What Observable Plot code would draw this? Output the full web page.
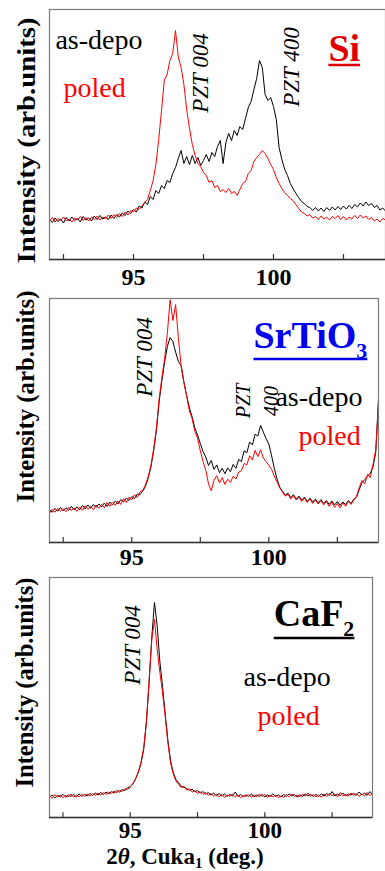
<!DOCTYPE html>
<html>
<head>
<meta charset="utf-8">
<script src="https://cdn.jsdelivr.net/npm/d3@7"></script>
<script src="https://cdn.jsdelivr.net/npm/@observablehq/plot@0.6"></script>
<style>
  html, body { margin: 0; padding: 0; background: #fff; }
  #wrap { position: relative; width: 385px; height: 871px; overflow: hidden; background: #fff; }
  #wrap svg { position: absolute; left: 0; }
  #wrap svg text, #wrap svg tspan { font-family: 'Liberation Serif', 'Times New Roman', serif !important; }
</style>
</head>
<body>
<div id="wrap"></div>
<script>
// ---------------- DATA ----------------
// 2θ sampling grid (deg.), 92.0 … 104.0 in 0.1° steps
const twoTheta = d3.range(0, 121).map(i => +(92 + i * 0.1).toFixed(1));

// Intensities (arb. units, 0–100 of panel height)
const siAsDepo = [
  16.0,14.8,16.6,15.2,16.2,14.6,16.8,15.4,17.0,15.6,
  16.4,15.0,17.2,15.8,16.6,15.4,17.4,16.0,17.6,16.2,
  17.0,16.0,17.8,16.4,18.0,17.0,18.6,17.6,19.4,18.4,
  20.0,19.0,21.4,20.6,23.0,22.0,25.2,24.0,27.6,26.4,
  29.6,28.4,31.6,30.8,34.4,36.8,40.4,43.6,38.4,41.2,
  38.0,41.6,38.4,40.8,37.6,39.6,42.0,39.2,42.8,41.2,
  45.2,47.6,38.4,46.8,50.4,47.6,51.6,49.6,53.2,52.0,
  56.4,60.8,63.2,68.0,72.4,79.6,76.8,66.0,63.6,64.8,
  61.2,56.0,44.8,40.0,36.0,33.6,30.4,28.4,26.4,24.8,
  23.2,22.4,21.2,20.8,19.6,20.8,19.4,20.6,19.2,20.8,
  19.6,21.0,19.8,21.2,20.0,21.4,20.2,21.6,20.4,22.0,
  21.0,22.6,21.4,23.0,21.6,22.4,20.8,21.6,19.8,20.6,
  19.4];
const siPoled = [
  15.2,16.8,15.0,16.4,15.6,17.0,15.4,16.2,15.0,16.6,
  15.8,17.2,15.6,16.8,15.4,17.0,16.0,17.4,15.8,17.0,
  16.2,17.8,16.4,18.0,16.8,18.4,17.2,19.0,17.8,19.6,
  19.0,20.6,20.0,21.4,22.8,24.0,27.6,31.6,38.0,48.0,
  59.6,71.6,74.0,79.6,82.4,91.6,81.0,76.8,70.0,60.0,
  52.4,46.0,41.6,38.4,37.2,34.8,33.6,30.8,31.6,28.8,
  29.6,27.2,28.0,26.8,28.4,26.4,27.2,25.6,28.0,30.4,
  31.2,34.4,35.6,39.2,40.8,42.0,43.6,42.4,40.4,38.0,
  36.0,32.8,30.4,28.4,26.8,25.6,24.4,23.6,22.0,20.4,
  19.0,18.4,17.4,18.0,16.6,17.2,16.0,17.4,16.2,17.0,
  15.8,17.2,16.4,17.6,16.0,17.2,15.8,17.0,16.2,17.6,
  16.4,17.8,16.6,17.4,16.0,16.8,15.4,16.2,15.0,16.4,
  15.8];
const stoAsDepo = [
  13.4,12.4,14.0,12.8,14.4,13.0,14.2,13.2,14.8,13.4,
  14.6,13.4,15.2,13.8,15.4,14.0,15.6,14.4,15.8,14.6,
  16.2,14.8,16.6,15.4,17.0,15.8,17.6,16.6,18.2,17.2,
  18.8,18.0,19.8,19.6,21.0,23.0,26.4,31.0,37.6,46.0,
  57.8,66.4,74.0,80.4,84.0,82.4,78.0,74.2,72.5,66.0,
  60.2,55.4,51.6,47.0,44.0,40.6,37.3,35.0,31.6,33.6,
  30.0,31.8,28.6,30.4,28.2,30.6,29.0,32.0,30.4,34.0,
  33.2,37.6,36.8,41.2,40.0,44.4,43.6,48.0,45.2,42.6,
  40.4,35.6,30.4,26.0,22.6,21.0,19.4,20.2,18.4,19.6,
  17.8,19.0,17.4,18.6,16.8,18.2,16.6,17.8,16.2,17.6,
  16.0,17.2,15.6,17.0,15.4,16.8,15.2,16.6,15.6,17.2,
  16.0,17.8,18.6,21.8,24.6,25.8,27.0,28.4,31.0,37.0,
  59.0];
const stoPoled = [
  12.0,13.6,12.4,14.0,12.8,13.8,12.6,14.4,13.0,14.2,
  12.8,14.6,13.2,15.0,13.6,14.8,13.4,15.4,14.0,15.6,
  14.2,16.4,14.8,16.6,15.2,17.0,15.6,18.0,16.4,18.6,
  17.4,19.6,18.4,20.8,21.4,23.6,27.0,31.6,38.4,47.0,
  59.0,67.6,75.4,86.0,99.5,91.0,97.5,84.0,72.5,65.6,
  60.2,54.0,50.8,45.6,42.8,37.6,33.2,29.6,24.0,21.2,
  25.6,27.4,24.4,26.6,23.8,26.0,24.6,27.2,26.0,28.8,
  29.4,32.4,31.8,35.6,33.8,37.8,35.2,38.0,34.6,33.2,
  31.6,30.0,27.2,24.8,22.4,20.6,19.0,19.8,17.8,19.2,
  17.4,18.6,16.8,18.2,16.4,17.8,16.0,17.4,15.8,17.2,
  15.4,16.8,14.8,16.6,14.4,16.0,14.2,16.2,14.8,16.8,
  15.6,17.4,19.0,22.6,25.4,24.0,28.0,26.6,32.0,38.0,
  57.0];
const cafAsDepo = [
  8.4,9.4,8.2,9.2,8.6,9.6,8.4,9.4,8.8,9.6,
  8.6,9.8,8.8,9.6,9.0,10.0,9.2,10.2,9.4,10.4,
  9.6,10.6,9.8,10.8,10.2,11.2,10.6,11.6,11.2,12.4,
  12.8,14.0,16.2,18.8,22.6,28.4,39.6,56.0,75.0,89.6,
  80.0,65.0,54.6,43.0,32.0,23.4,18.6,15.8,14.4,13.0,
  12.6,12.0,11.4,11.8,10.8,11.2,10.2,10.8,9.8,10.4,
  9.4,10.2,9.2,10.0,9.0,9.8,8.8,9.6,9.0,10.6,
  8.8,9.6,8.6,9.4,8.8,9.8,8.6,9.4,8.8,9.6,
  8.6,9.4,8.8,9.8,8.8,9.4,8.6,9.6,8.8,9.8,
  9.0,9.6,8.6,9.4,8.8,9.8,9.0,9.6,8.8,9.6,
  8.8,9.8,9.0,10.0,9.2,10.8,9.0,9.8,9.2,10.2,
  9.0,9.8,9.4,10.0,9.2,10.6,9.4,10.2,9.2,10.8,
  9.6];
const cafPoled = [
  9.0,8.0,9.6,8.4,9.4,8.2,9.2,8.6,9.8,8.4,
  9.4,8.6,9.6,8.8,9.8,9.0,10.0,9.2,10.2,9.4,
  10.4,9.6,10.6,10.0,11.0,10.2,11.4,10.8,12.0,11.6,
  12.6,14.2,16.0,19.0,23.0,29.0,40.0,57.0,74.0,82.5,
  70.0,60.5,52.0,42.0,31.0,22.6,18.0,15.2,13.8,12.4,
  13.0,11.4,12.0,10.6,11.2,10.0,10.8,9.6,10.4,9.2,
  10.0,8.8,9.8,8.6,9.6,8.4,9.4,8.8,9.8,8.6,
  9.4,8.2,9.2,8.8,9.6,8.4,9.4,8.6,9.8,8.8,
  9.6,8.4,9.2,8.6,9.4,8.2,9.0,8.4,9.6,8.6,
  9.8,8.8,9.4,8.6,9.8,9.0,10.2,8.8,9.6,8.6,
  9.4,8.4,9.8,8.8,10.0,9.0,9.8,8.6,10.4,9.0,
  9.6,8.8,10.2,9.2,10.0,8.8,9.8,9.0,10.4,9.2,
  10.0];

const seriesNames = ["as-depo", "poled"];
const xTicks = [92.5, 95, 97.5, 100, 102.5];
const xTickLabels = [95, 100];
const yLabel = "Intensity (arb.units)";
const xLabelParts = [
  {t: "2"}, {t: "θ", italic: true}, {t: ", Cuka"}, {t: "1", sub: true}, {t: " (deg.)"}
];

// substrate name (main + subscript) per panel
const substrateNames = ["Si", "SrTiO", "CaF"];
const substrateSubs = ["", "3", "2"];

// annotation anchors in data space (2θ, intensity)
const substrateAnchors = [
  {x: 101.96, y: 79.6}, {x: 99.44, y: 79.9}, {x: 100.33, y: 80.0}
];
const peakLabels = [
  {panel: 0, text: "PZT 004", x: 97.38, y: 74.6},
  {panel: 0, text: "PZT 400", x: 100.66, y: 77.0},
  {panel: 1, text: "PZT 004", x: 95.46, y: 76.0},
  {panel: 1, text: "PZT\n400", x: 99.51, y: 58.0},
  {panel: 2, text: "PZT 004", x: 95.07, y: 71.9}
];
const legendLabels = [
  {panel: 0, series: "as-depo", x: 92.21, y: 84.4},
  {panel: 0, series: "poled",   x: 92.50, y: 65.2},
  {panel: 1, series: "as-depo", x: 100.24, y: 56.1},
  {panel: 1, series: "poled",   x: 101.08, y: 39.8},
  {panel: 2, series: "as-depo", x: 99.21, y: 55.0},
  {panel: 2, series: "poled",   x: 99.73, y: 38.75}
];

// ---------------- LAYOUT / STYLE ----------------
const serif = "Liberation Serif, Times New Roman, serif";
const seriesColors = {"as-depo": "#000000", "poled": "#ff0000"};
const substrateColors = ["#e00000", "#0000ee", "#000000"];
const layout = [
  {top: 0,   height: 290, mt: 9, mb: 31, mr: 0,  tickDy: 18, tickFs: 24, ylDx: -23, ylDy: 6,   ylLen: 246, ulOff: 5,  subDy: 10},
  {top: 290, height: 280, mt: 8, mb: 28, mr: 7,  tickDy: 15, tickFs: 24, ylDx: -24, ylDy: -24, ylLen: 212, ulOff: 12, subDy: 10},
  {top: 570, height: 301, mt: 7, mb: 54, mr: 13, tickDy: 13, tickFs: 23, ylDx: -25, ylDy: -15, ylLen: 210, ulOff: 13, subDy: 10}
];
const panelSeries = [[siAsDepo, siPoled], [stoAsDepo, stoPoled], [cafAsDepo, cafPoled]];

const wrap = document.getElementById("wrap");
const NS = "http://www.w3.org/2000/svg";

layout.forEach((L, i) => {
  const [a, p] = panelSeries[i];
  const rows = twoTheta.map((t, j) => ({t, asDepo: a[j], poled: p[j]}));
  const peaks1 = peakLabels.filter(d => d.panel === i && !d.text.includes("\n"));
  const peaks2 = peakLabels.filter(d => d.panel === i && d.text.includes("\n"));
  const leg = legendLabels.filter(d => d.panel === i);
  const sub = [{name: substrateNames[i], ...substrateAnchors[i]}];
  const xLabelText = xLabelParts.map(d => d.t).join("");

  const marks = [
    Plot.lineY(rows, {x: "t", y: "asDepo", stroke: seriesColors["as-depo"], strokeWidth: 1, clip: true}),
    Plot.lineY(rows, {x: "t", y: "poled", stroke: seriesColors["poled"], strokeWidth: 1, clip: true}),
    Plot.frame({stroke: "#7a7a7a", strokeWidth: 1.2}),
    Plot.ruleY([0], {stroke: "#333", strokeWidth: 1.5}),
    Plot.ruleX(xTicks, {x: d => d, y1: 0, y2: 2, stroke: "#333", strokeWidth: 1.2}),
    Plot.text(xTickLabels, {x: d => d, text: d => String(d), frameAnchor: "bottom", lineAnchor: "middle",
      dy: L.tickDy, fontSize: L.tickFs, fontWeight: "bold", fontFamily: serif, fill: "#000"}),
    Plot.text([yLabel], {text: d => d, frameAnchor: "left", textAnchor: "middle", lineAnchor: "middle",
      rotate: -90, dx: L.ylDx, dy: L.ylDy, fontSize: 25, fontWeight: "bold", fontFamily: serif, fill: "#000"}),
    Plot.text(peaks1, {x: "x", y: "y", text: "text", rotate: -90, textAnchor: "middle", lineAnchor: "middle",
      fontSize: 23, fontStyle: "italic", fontFamily: serif, fill: "#000"}),
    Plot.text(peaks2, {x: "x", y: "y", text: "text", rotate: -90, textAnchor: "middle", lineAnchor: "middle",
      lineHeight: 1.38, fontSize: 20, fontStyle: "italic", fontFamily: serif, fill: "#000"}),
    Plot.text(leg.filter(d => d.series === seriesNames[0]), {x: "x", y: "y", text: "series", textAnchor: "start",
      lineAnchor: "bottom", fontSize: 28, fontFamily: serif, fill: seriesColors["as-depo"]}),
    Plot.text(leg.filter(d => d.series === seriesNames[1]), {x: "x", y: "y", text: "series", textAnchor: "start",
      lineAnchor: "bottom", fontSize: 28, fontFamily: serif, fill: seriesColors["poled"]}),
    Plot.text(sub, {x: "x", y: "y", text: "name", textAnchor: "start", lineAnchor: "bottom",
      fontSize: 38, fontWeight: "bold", fontFamily: serif, fill: substrateColors[i]})
  ];
  if (i === 2) {
    marks.push(Plot.text([xLabelText], {text: d => d, frameAnchor: "bottom", lineAnchor: "bottom", dx: -26, dy: 46,
      fontSize: 23, fontWeight: "bold", fontFamily: serif, fill: "#000"}));
  }

  const chart = Plot.plot({
    width: 385, height: L.height,
    marginTop: L.mt, marginBottom: L.mb, marginLeft: 49, marginRight: L.mr,
    x: {domain: [92, 104], axis: null},
    y: {domain: [0, 100], axis: null},
    style: {background: "transparent", overflow: "visible"},
    marks
  });
  chart.style.top = L.top + "px";
  wrap.appendChild(chart);

  // ---- text post-processing (stretch, subscripts, underline) ----
  const sy = chart.scale("y");
  chart.querySelectorAll("text").forEach(el => {
    const tc = el.textContent;
    if (tc === yLabel) {
      el.setAttribute("textLength", L.ylLen);
      el.setAttribute("lengthAdjust", "spacingAndGlyphs");
    } else if (tc === substrateNames[i]) {
      if (substrateSubs[i]) {
        const ts = document.createElementNS(NS, "tspan");
        ts.setAttribute("dy", L.subDy);
        ts.setAttribute("font-size", 22);
        ts.textContent = substrateSubs[i];
        el.appendChild(ts);
      }
      const r = el.getBoundingClientRect(), s = chart.getBoundingClientRect();
      const yb = sy.apply(substrateAnchors[i].y) + L.ulOff;
      const line = document.createElementNS(NS, "line");
      line.setAttribute("x1", r.left - s.left);
      line.setAttribute("x2", r.right - s.left);
      line.setAttribute("y1", yb);
      line.setAttribute("y2", yb);
      line.setAttribute("stroke", substrateColors[i]);
      line.setAttribute("stroke-width", 2.5);
      chart.appendChild(line);
    } else if (i === 2 && tc === xLabelParts.map(d => d.t).join("")) {
      el.textContent = "";
      xLabelParts.forEach((part, k) => {
        const ts = document.createElementNS(NS, "tspan");
        ts.textContent = part.t;
        if (part.italic) ts.setAttribute("font-style", "italic");
        if (part.sub) { ts.setAttribute("font-size", 15); ts.setAttribute("dy", 4); }
        if (k > 0 && xLabelParts[k - 1].sub) ts.setAttribute("dy", -4);
        el.appendChild(ts);
      });
    }
  });
});
</script>
</body>
</html>
